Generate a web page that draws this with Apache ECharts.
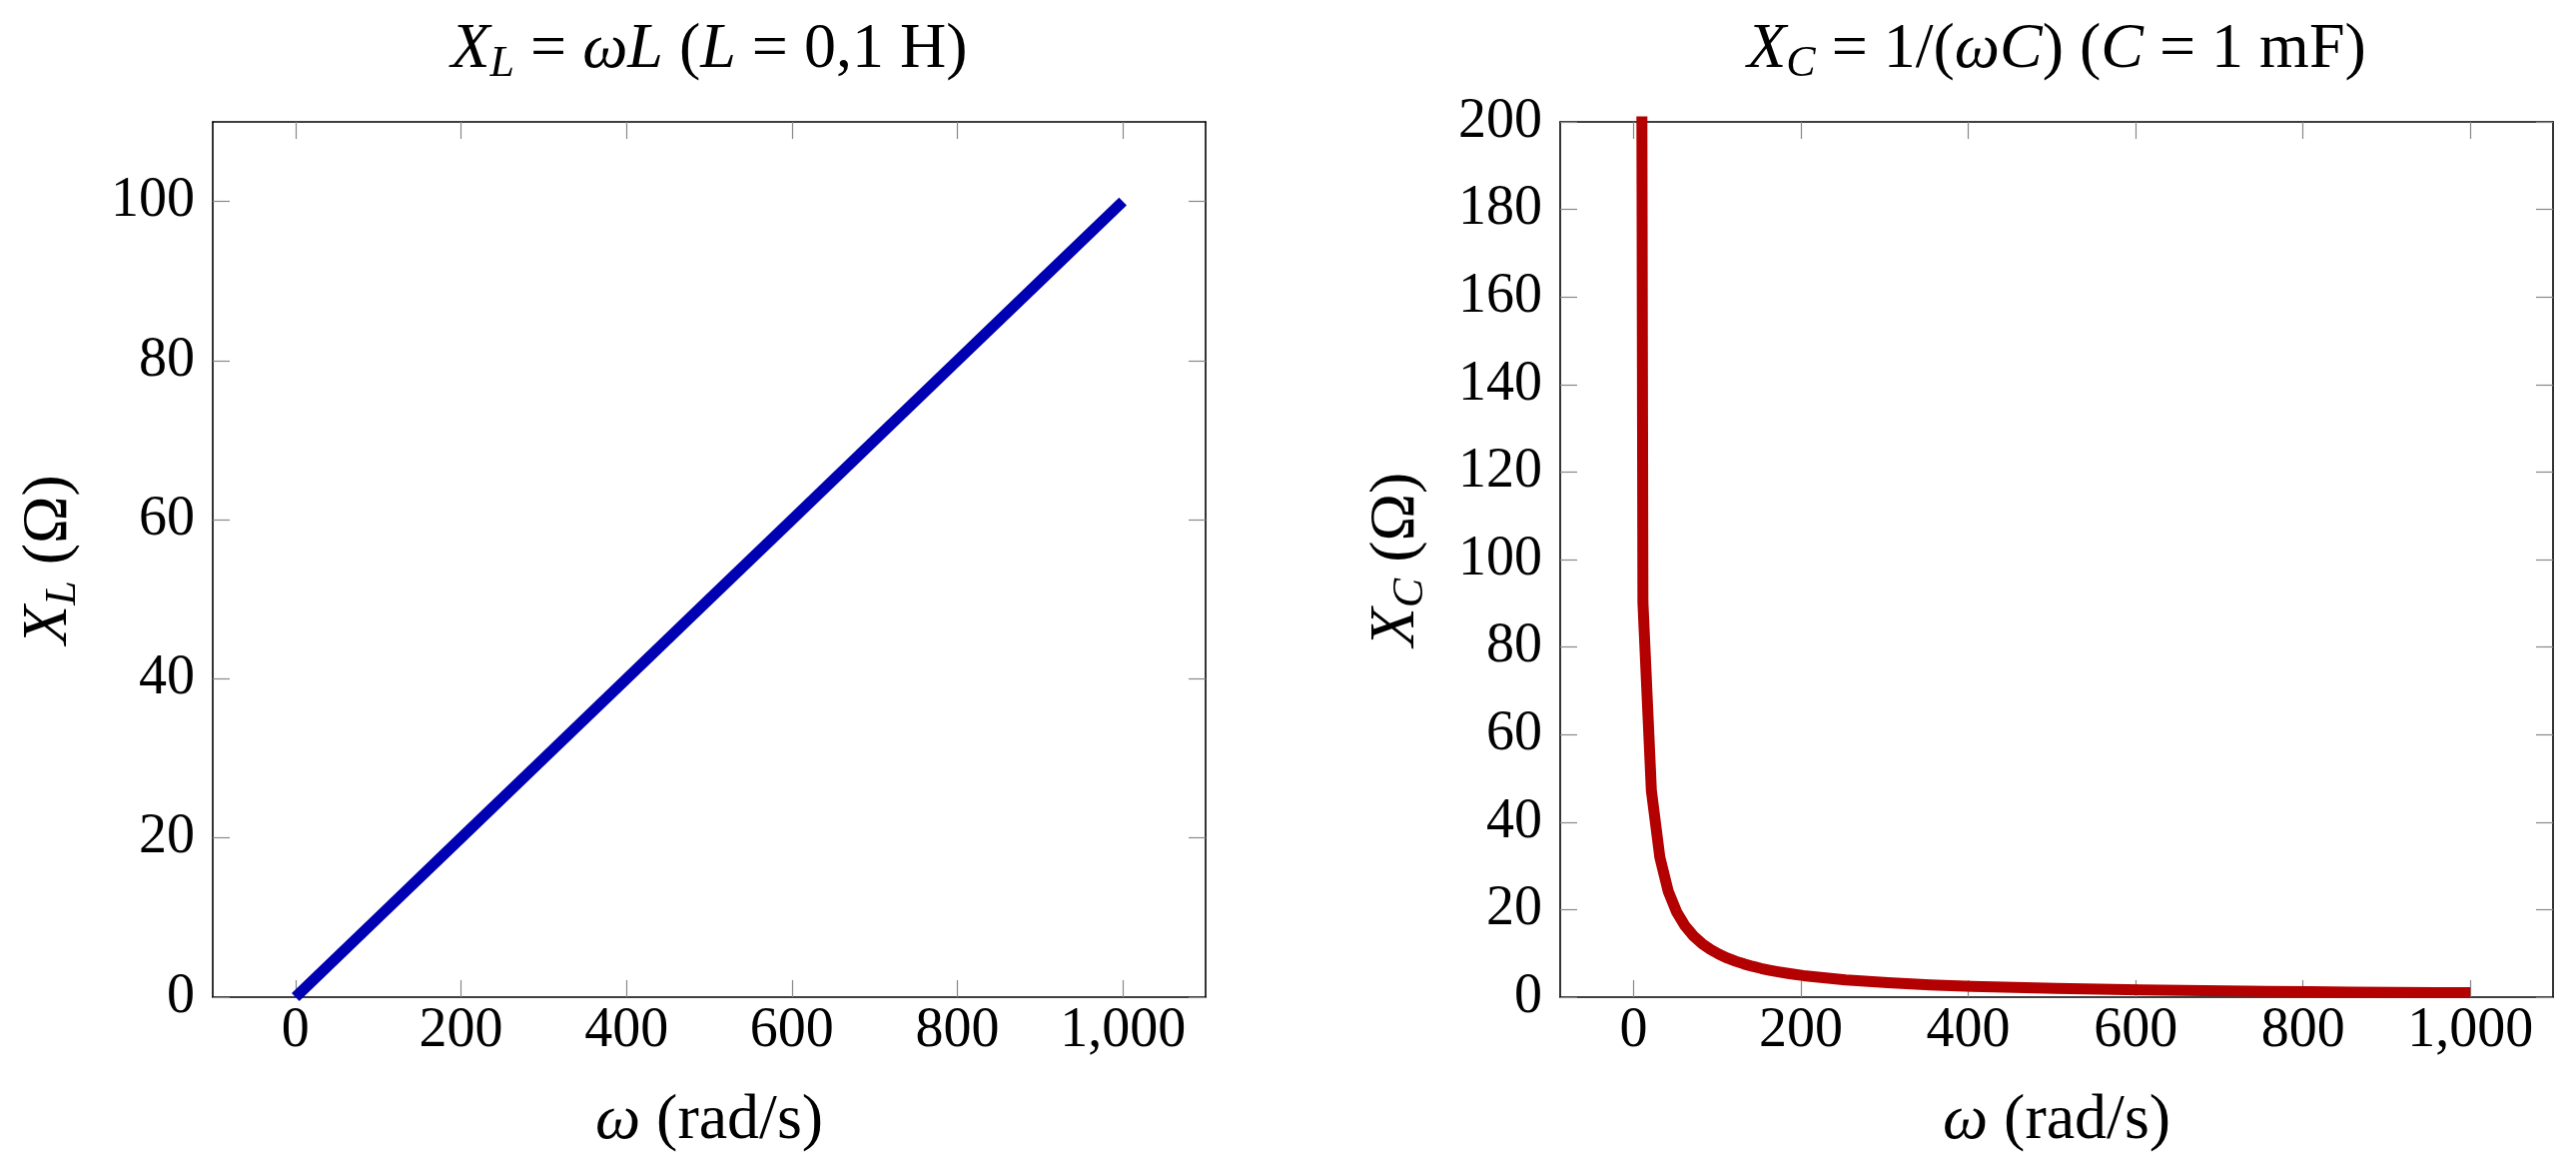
<!DOCTYPE html>
<html>
<head>
<meta charset="utf-8">
<script src="https://cdn.jsdelivr.net/npm/echarts@6/dist/echarts.min.js"></script>
<style>
  html, body { margin: 0; padding: 0; background: #fff; }
  #chart { width: 2579px; height: 1173px; }
</style>
</head>
<body>
<div id="chart"></div>
<script>
// tick labels
const xTicks = [0, 200, 400, 600, 800, 1000];
const yTicksL = [0, 20, 40, 60, 80, 100];
const yTicksC = [0, 20, 40, 60, 80, 100, 120, 140, 160, 180, 200];

// X_L = wL, L = 0.1 H
const omegaL = [0, 100, 200, 300, 400, 500, 600, 700, 800, 900, 1000];
const reactL = [0, 10, 20, 30, 40, 50, 60, 70, 80, 90, 100];

// X_C = 1/(wC), C = 1 mF
const omegaC = [1, 11.09, 21.18, 31.27, 41.36, 51.45, 61.55, 71.64, 81.73, 91.82,
  101.91, 112.0, 122.09, 132.18, 142.27, 152.36, 162.45, 172.55, 182.64, 192.73,
  202.82, 253.27, 303.73, 354.18, 404.64, 455.09, 505.55, 556.0, 606.45, 656.91,
  707.36, 757.82, 808.27, 858.73, 909.18, 959.64, 1000];
const reactC = [1000, 90.16, 47.21, 31.98, 24.18, 19.43, 16.25, 13.96, 12.24, 10.89,
  9.81, 8.93, 8.19, 7.57, 7.03, 6.56, 6.16, 5.80, 5.48, 5.19,
  4.93, 3.95, 3.29, 2.82, 2.47, 2.20, 1.98, 1.80, 1.65, 1.52,
  1.41, 1.32, 1.24, 1.16, 1.10, 1.04, 1.00];

const FONT = "'Liberation Serif', 'DejaVu Serif', serif";
const FS = 56;   // tick labels
const NS = 64;   // titles and axis names

const rich = {
  i: { fontFamily: FONT, fontSize: NS, fontStyle: 'italic', fontWeight: 'normal', color: '#000', lineHeight: 72 },
  n: { fontFamily: FONT, fontSize: NS, fontWeight: 'normal', color: '#000', lineHeight: 72 },
  s: { fontFamily: FONT, fontSize: 44, fontStyle: 'italic', fontWeight: 'normal', color: '#000', lineHeight: 38, verticalAlign: 'bottom' }
};

function commas(v) {
  return String(v).replace(/\B(?=(\d{3})+(?!\d))/g, ',');
}

const tickStyle = { show: true, inside: true, length: 17, lineStyle: { color: '#888', width: 1.2 } };
const lineAxis = { show: true, onZero: false, lineStyle: { color: '#000', width: 1.6 } };

function xAxes(grid, min, max) {
  return [{
    type: 'value', gridIndex: grid, min: min, max: max, position: 'bottom',
    axisLine: lineAxis,
    axisTick: Object.assign({ customValues: xTicks }, tickStyle),
    axisLabel: { customValues: xTicks, formatter: commas, fontFamily: FONT, fontSize: FS, color: '#000', margin: 6 },
    splitLine: { show: false },
    name: '{i|ω}{n| (rad/s)}', nameLocation: 'middle', nameGap: 88,
    nameTextStyle: { rich: rich }
  }, {
    type: 'value', gridIndex: grid, min: min, max: max, position: 'top',
    axisLine: lineAxis,
    axisTick: Object.assign({ customValues: xTicks }, tickStyle),
    axisLabel: { show: false },
    splitLine: { show: false }
  }];
}

function yAxes(grid, max, ticks, name) {
  return [{
    type: 'value', gridIndex: grid, min: 0, max: max, position: 'left',
    axisLine: lineAxis,
    axisTick: Object.assign({ customValues: ticks }, tickStyle),
    axisLabel: { customValues: ticks, fontFamily: FONT, fontSize: FS, color: '#000', margin: 18 },
    splitLine: { show: false },
    name: name, nameLocation: 'middle', nameRotate: 90, nameGap: 128,
    nameTextStyle: { rich: rich }
  }, {
    type: 'value', gridIndex: grid, min: 0, max: max, position: 'right',
    axisLine: lineAxis,
    axisTick: Object.assign({ customValues: ticks }, tickStyle),
    axisLabel: { show: false },
    splitLine: { show: false }
  }];
}

const chart = echarts.init(document.getElementById('chart'));
chart.setOption({
  animation: false,
  backgroundColor: '#fff',
  title: [{
    text: '{i|X}{s|L}{n| = }{i|ωL}{n| (}{i|L}{n| = 0,1 H)}',
    left: 710, top: 14, textAlign: 'center', padding: 0,
    textStyle: { fontWeight: 'normal', rich: rich }
  }, {
    text: '{i|X}{s|C}{n| = 1/(}{i|ωC}{n|) (}{i|C}{n| = 1 mF)}',
    left: 2059, top: 14, textAlign: 'center', padding: 0,
    textStyle: { fontWeight: 'normal', rich: rich }
  }],
  grid: [
    { left: 213, top: 122, width: 994, height: 876 },
    { left: 1562, top: 122, width: 994, height: 876 }
  ],
  xAxis: xAxes(0, -100, 1100).concat(xAxes(1, -87.8, 1098.8)),
  yAxis: yAxes(0, 110, yTicksL, '{i|X}{s|L}{n| (Ω)}').concat(yAxes(1, 200, yTicksC, '{i|X}{s|C}{n| (Ω)}')),
  series: [{
    type: 'line', xAxisIndex: 0, yAxisIndex: 0,
    data: omegaL.map((w, i) => [w, reactL[i]]),
    showSymbol: false, symbol: 'none',
    lineStyle: { color: '#0000b3', width: 11, cap: 'butt' }
  }, {
    type: 'line', xAxisIndex: 2, yAxisIndex: 2,
    data: omegaC.map((w, i) => [w, reactC[i]]),
    showSymbol: false, symbol: 'none', clip: true,
    lineStyle: { color: '#b30000', width: 11, cap: 'butt', join: 'round' }
  }]
});
</script>
</body>
</html>
